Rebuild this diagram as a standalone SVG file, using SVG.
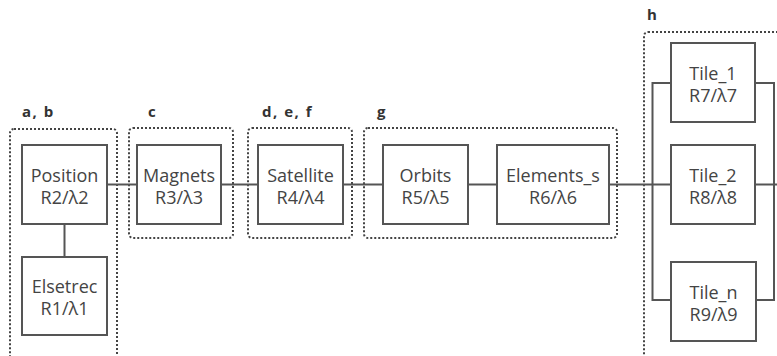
<svg xmlns="http://www.w3.org/2000/svg" width="777" height="356" viewBox="0 0 777 356">
<style>
.box{fill:#fff;stroke:#555;stroke-width:2}
.grp{fill:none;stroke:#444;stroke-width:2;stroke-dasharray:2 2}
.t{font-family:"Open Sans","Noto Sans","DejaVu Sans",sans-serif;font-size:18px;fill:#444;text-anchor:middle}
.lbl{font-family:"Open Sans","Noto Sans","DejaVu Sans",sans-serif;font-size:15px;font-weight:bold;fill:#333;letter-spacing:1.5px}
.con{fill:none;stroke:#555;stroke-width:2}
</style>
<rect width="777" height="356" fill="#fff"/>
<g id="groups">
<g id="group-ab"><rect class="grp" x="10" y="129" width="107" height="240" rx="4"/><text class="lbl" x="22" y="117">a, b</text></g>
<g id="group-c"><rect class="grp" x="129" y="128" width="104" height="110" rx="4"/><text class="lbl" x="148" y="117">c</text></g>
<g id="group-def"><rect class="grp" x="248" y="128" width="104" height="110" rx="4"/><text class="lbl" x="262" y="117">d, e, f</text></g>
<g id="group-g"><rect class="grp" x="364" y="128" width="253" height="110" rx="4"/><text class="lbl" x="377" y="117">g</text></g>
<g id="group-h"><rect class="grp" x="644" y="32" width="150" height="340" rx="4"/><text class="lbl" x="647" y="20">h</text></g>
</g>
<g id="connectors">
<line class="con" x1="64.5" y1="224" x2="64.5" y2="257"/>
<line class="con" x1="107" y1="184.5" x2="137" y2="184.5"/>
<line class="con" x1="221" y1="184.5" x2="258" y2="184.5"/>
<line class="con" x1="343" y1="184.5" x2="383" y2="184.5"/>
<line class="con" x1="468" y1="184.5" x2="497" y2="184.5"/>
<line class="con" x1="609" y1="184.5" x2="671" y2="184.5"/>
<polyline class="con" points="671,83 652.5,83 652.5,300 671,300"/>
<polyline class="con" points="755,83 774,83 774,300 756,300"/>
<line class="con" x1="755" y1="184.5" x2="777" y2="184.5"/>
</g>
<g id="position"><rect class="box" x="22" y="145" width="85" height="79"/><text class="t" x="64.5" y="181.5">Position</text><text class="t" x="64.5" y="203.5">R2/λ2</text></g>
<g id="elsetrec"><rect class="box" x="22" y="257" width="85" height="78"/><text class="t" x="64.5" y="293">Elsetrec</text><text class="t" x="64.5" y="315">R1/λ1</text></g>
<g id="magnets"><rect class="box" x="137" y="145" width="84" height="79"/><text class="t" x="179" y="181.5">Magnets</text><text class="t" x="179" y="203.5">R3/λ3</text></g>
<g id="satellite"><rect class="box" x="258" y="145" width="85" height="79"/><text class="t" x="300.5" y="181.5">Satellite</text><text class="t" x="300.5" y="203.5">R4/λ4</text></g>
<g id="orbits"><rect class="box" x="383" y="145" width="85" height="79"/><text class="t" x="425.5" y="181.5">Orbits</text><text class="t" x="425.5" y="203.5">R5/λ5</text></g>
<g id="elements_s"><rect class="box" x="497" y="145" width="112" height="79"/><text class="t" x="553" y="181.5">Elements_s</text><text class="t" x="553" y="203.5">R6/λ6</text></g>
<g id="tile_1"><rect class="box" x="671" y="43" width="84" height="79"/><text class="t" x="713" y="79.5">Tile_1</text><text class="t" x="713" y="101.5">R7/λ7</text></g>
<g id="tile_2"><rect class="box" x="671" y="145" width="84" height="79"/><text class="t" x="713" y="181.5">Tile_2</text><text class="t" x="713" y="203.5">R8/λ8</text></g>
<g id="tile_n"><rect class="box" x="671" y="262" width="85" height="79"/><text class="t" x="713.5" y="298.5">Tile_n</text><text class="t" x="713.5" y="320.5">R9/λ9</text></g>
</svg>
